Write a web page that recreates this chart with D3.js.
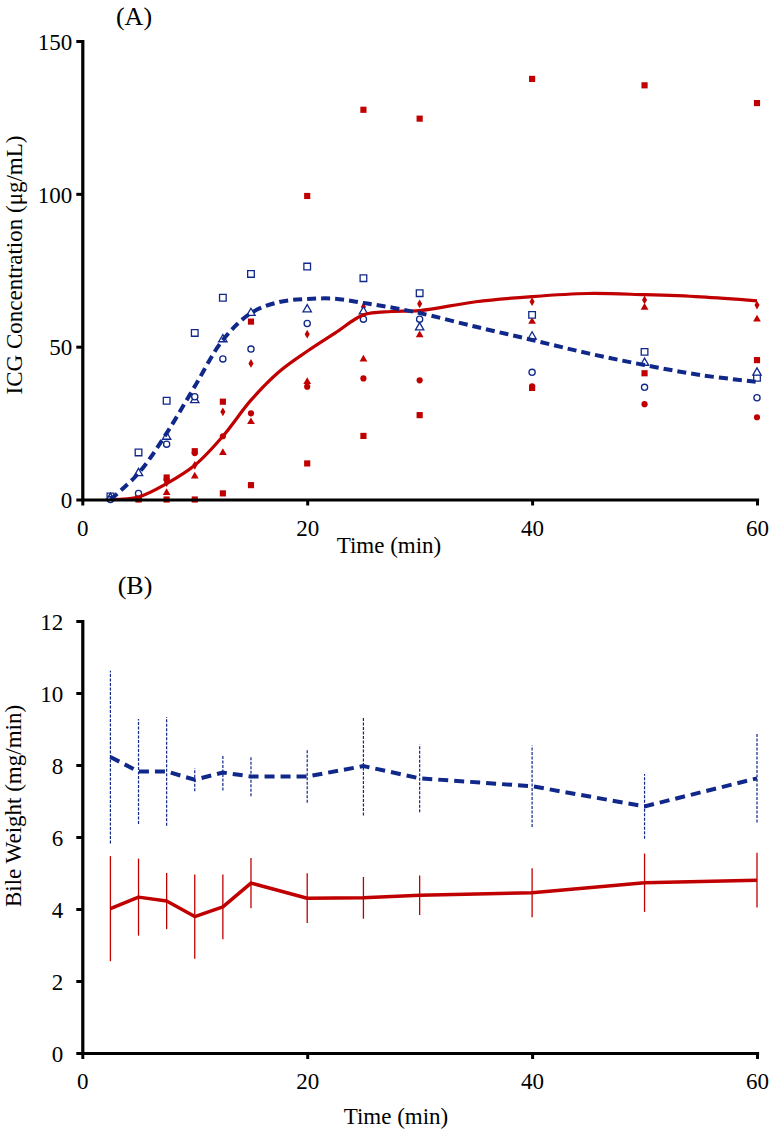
<!DOCTYPE html>
<html>
<head>
<meta charset="utf-8">
<script src="https://cdn.jsdelivr.net/npm/d3@7/dist/d3.min.js"></script>
<style>
  html, body { margin: 0; padding: 0; background: #fff; }
  svg { display: block; }
</style>
</head>
<body>
<script>
// ---------- DATA ----------
// Panel A: ICG concentration (µg/mL) vs time (min)
const timesA = [2.5, 5, 7.5, 10, 12.5, 15, 20, 25, 30, 40, 50, 60];
// blue (open markers) individual subjects
const blueSquare   = [1.0, 15.4, 32.3, 54.5, 66.0, 73.8, 76.2, 72.4, 67.5, 60.4, 48.3, 39.8];
const blueTriangle = [0.5, 8.6, 20.5, 32.5, 52.4, 61.0, 62.2, 61.5, 56.3, 53.3, 44.7, 41.5];
const blueCircle   = [0.0, 2.0, 18.1, 33.6, 46.0, 49.2, 57.6, 59.0, 59.0, 41.6, 36.7, 33.3];
// red (filled markers) individual subjects
const redSquareHigh = [0.5, 0.3, 7.2, 15.8, 32.0, 58.2, 99.3, 127.5, 124.6, 137.6, 135.5, 129.7];
const redSquareLow  = [0.3, 0.0, 0.0, 0.0, 2.0, 4.7, 11.8, 20.8, 27.6, 36.5, 41.3, 45.6];
const redDiamond    = [0.3, 0.5, 5.5, 11.2, 28.7, 44.5, 54.1, 63.0, 64.0, 64.7, 65.3, 63.6];
const redTriangle   = [0.2, 0.4, 2.2, 7.6, 15.3, 25.4, 38.5, 45.9, 53.8, 58.2, 62.8, 59.0];
const redCircle     = [0.3, 0.5, 6.5, 15.2, 20.7, 28.2, 36.9, 39.6, 39.0, 37.0, 31.2, 26.9];
// fitted curves
const fitTimes = [2.5, 5, 7.5, 10, 12.5, 15, 17.5, 20, 22.5, 25, 27.5, 30, 35, 40, 45, 50, 55, 60];
const blueFit  = [0.0, 8.6, 21.7, 37.0, 52.2, 61.0, 64.6, 65.6, 65.7, 64.3, 62.8, 61.0, 56.5, 52.2, 47.8, 44.0, 40.7, 38.5];
const redFit   = [0.0, 0.8, 5.2, 11.2, 20.7, 32.5, 41.8, 48.5, 54.5, 60.4, 61.5, 61.8, 64.7, 66.4, 67.4, 67.0, 66.3, 65.0];
const yTicksA = [0, 50, 100, 150];
const xTicks = [0, 20, 40, 60];

// Panel B: bile weight (mg/min) mean ± SD
const timesB = [2.5, 5, 7.5, 10, 12.5, 15, 20, 25, 30, 40, 50, 60];
const blueMean = [8.22, 7.82, 7.82, 7.59, 7.79, 7.68, 7.68, 7.97, 7.63, 7.41, 6.85, 7.63];
const blueSD   = [2.40, 1.46, 1.51, 0.32, 0.50, 0.55, 0.73, 1.37, 0.94, 1.13, 0.90, 1.23];
const redMean  = [4.01, 4.33, 4.22, 3.79, 4.06, 4.72, 4.30, 4.31, 4.38, 4.45, 4.73, 4.80];
const redSD    = [1.46, 1.07, 0.78, 1.17, 0.90, 0.70, 0.69, 0.58, 0.55, 0.68, 0.81, 0.76];
const yTicksB = [0, 2, 4, 6, 8, 10, 12];

// ---------- STYLE ----------
const FONT = "'Liberation Serif','Times New Roman',serif";
const RED = "#C00000";
const BLUE = "#10288A";

const svg = d3.select("body").append("svg").attr("width", 769).attr("height", 1131);
svg.append("rect").attr("width", 769).attr("height", 1131).attr("fill", "#fff");

const xA = d3.scaleLinear().domain([0, 60]).range([82.3, 757]);
const yA = d3.scaleLinear().domain([0, 150]).range([499.5, 41]);
const xB = d3.scaleLinear().domain([0, 60]).range([82.3, 757]);
const yB = d3.scaleLinear().domain([0, 12]).range([1053, 621]);

function styleAxis(g) {
  g.select(".domain").attr("stroke", "#000").attr("stroke-width", 3.2).attr("stroke-linecap", "square");
  g.selectAll(".tick line").attr("stroke", "#000").attr("stroke-width", 3);
  g.selectAll(".tick text").attr("font-family", FONT).attr("font-size", 23).attr("fill", "#000");
}

function drawAxes(x, y, yTicks, yPad) {
  const gy = svg.append("g").attr("transform", `translate(${x(0)},0)`)
    .call(d3.axisLeft(y).tickValues(yTicks).tickSize(6).tickSizeOuter(0).tickPadding(yPad).tickFormat(d3.format("d")));
  styleAxis(gy);
  gy.selectAll(".tick text").attr("dy", "0.36em");
  const gx = svg.append("g").attr("transform", `translate(0,${y(0)})`)
    .call(d3.axisBottom(x).tickValues(xTicks).tickSize(6).tickSizeOuter(0).tickPadding(14).tickFormat(d3.format("d")));
  styleAxis(gx);
}

// ---------- PANEL A ----------
const ptsA = arr => timesA.map((t, i) => ({ t, v: arr[i] }));
function drawMarkers(arr, type, size, fill, stroke, sw) {
  svg.append("g").selectAll("path").data(ptsA(arr)).join("path")
    .attr("transform", d => `translate(${xA(d.t)},${yA(d.v)})`)
    .attr("d", d3.symbol().type(type).size(size))
    .attr("fill", fill).attr("stroke", stroke).attr("stroke-width", sw);
}
// red filled markers
drawMarkers(redSquareHigh, d3.symbolSquare, 38, RED, "none", 0);
drawMarkers(redSquareLow, d3.symbolSquare, 38, RED, "none", 0);
drawMarkers(redDiamond, d3.symbolDiamond, 22, RED, "none", 0);
drawMarkers(redTriangle, d3.symbolTriangle, 26, RED, "none", 0);
drawMarkers(redCircle, d3.symbolCircle, 30, RED, "none", 0);
// blue open markers
drawMarkers(blueSquare, d3.symbolSquare, 44, "#fff", BLUE, 1.3);
drawMarkers(blueTriangle, d3.symbolTriangle, 30, "#fff", BLUE, 1.3);
drawMarkers(blueCircle, d3.symbolCircle, 30, "#fff", BLUE, 1.3);

const fitLine = arr => d3.line()
  .x((d, i) => xA(fitTimes[i])).y(d => yA(d))
  .curve(d3.curveCatmullRom.alpha(0.5))(arr);
svg.append("path").attr("d", fitLine(redFit)).attr("fill", "none")
  .attr("stroke", RED).attr("stroke-width", 3.2);
svg.append("path").attr("d", fitLine(blueFit)).attr("fill", "none")
  .attr("stroke", BLUE).attr("stroke-width", 4).attr("stroke-dasharray", "9,5");

drawAxes(xA, yA, yTicksA, 4);

svg.append("text").attr("x", 134).attr("y", 25).attr("text-anchor", "middle")
  .attr("font-family", FONT).attr("font-size", 26).text("(A)");
svg.append("text").attr("x", 389).attr("y", 553).attr("text-anchor", "middle")
  .attr("font-family", FONT).attr("font-size", 23).text("Time (min)");
svg.append("text").attr("transform", "translate(22,265) rotate(-90)").attr("text-anchor", "middle")
  .attr("font-family", FONT).attr("font-size", 23).text("ICG Concentration (μg/mL)");

// ---------- PANEL B ----------
const ptsB = (m, s) => timesB.map((t, i) => ({ t, m: m[i], s: s[i] }));
// error bars
svg.append("g").selectAll("line").data(ptsB(redMean, redSD)).join("line")
  .attr("x1", d => xB(d.t)).attr("x2", d => xB(d.t))
  .attr("y1", d => yB(d.m - d.s)).attr("y2", d => yB(d.m + d.s))
  .attr("stroke", RED).attr("stroke-width", 1.3);
svg.append("g").selectAll("line").data(ptsB(blueMean, blueSD)).join("line")
  .attr("x1", d => xB(d.t)).attr("x2", d => xB(d.t))
  .attr("y1", d => yB(d.m - d.s)).attr("y2", d => yB(d.m + d.s))
  .attr("stroke", BLUE).attr("stroke-width", 1.2).attr("stroke-dasharray", "3,1.5");

const meanLine = d3.line().x(d => xB(d.t)).y(d => yB(d.m));
svg.append("path").attr("d", meanLine(ptsB(redMean, redSD))).attr("fill", "none")
  .attr("stroke", RED).attr("stroke-width", 3.5).attr("stroke-linejoin", "round");
svg.append("path").attr("d", meanLine(ptsB(blueMean, blueSD))).attr("fill", "none")
  .attr("stroke", BLUE).attr("stroke-width", 4).attr("stroke-dasharray", "10,6");

drawAxes(xB, yB, yTicksB, 13);

svg.append("text").attr("x", 135).attr("y", 594).attr("text-anchor", "middle")
  .attr("font-family", FONT).attr("font-size", 26).text("(B)");
svg.append("text").attr("x", 396).attr("y", 1124).attr("text-anchor", "middle")
  .attr("font-family", FONT).attr("font-size", 23).text("Time (min)");
svg.append("text").attr("transform", "translate(21,806) rotate(-90)").attr("text-anchor", "middle")
  .attr("font-family", FONT).attr("font-size", 23).text("Bile Weight (mg/min)");
</script>
</body>
</html>
